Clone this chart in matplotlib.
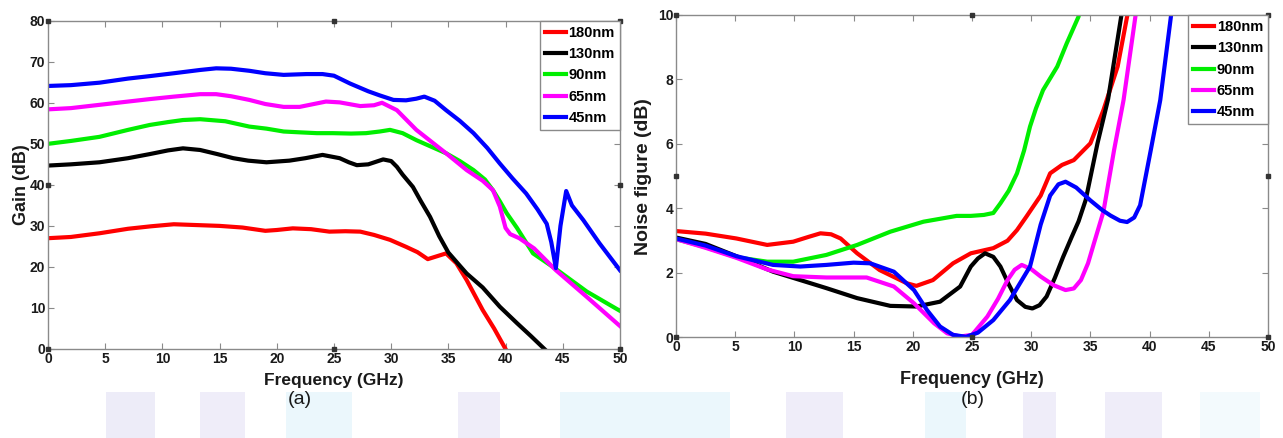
import matplotlib
matplotlib.use("Agg")
import matplotlib.pyplot as plt
from matplotlib.patches import Rectangle

plt.rcParams["font.family"] = ["Liberation Sans", "DejaVu Sans"]

LABELS = ["180nm", "130nm", "90nm", "65nm", "45nm"]
COLORS = ["#ff0000", "#000000", "#00ee00", "#ff00ff", "#0000ff"]

# ---- (a) Gain (dB) vs frequency (GHz)
gain_f_180 = [0, 2, 4.5, 7, 9, 11, 13, 15, 17, 19, 20, 21.4, 23, 24.6, 26, 27.3, 28.5, 29.9, 31.3,
              32.3, 33.2, 34, 34.8, 35.7, 36.6, 38, 39, 40]
gain_180 = [27.0, 27.3, 28.2, 29.3, 29.9, 30.4, 30.2, 30.0, 29.6, 28.8, 29.0, 29.4, 29.2, 28.6, 28.7,
            28.6, 27.8, 26.6, 24.9, 23.6, 21.9, 22.6, 23.3, 20.9, 16.8, 9.5, 5.0, 0.0]

gain_f_130 = [0, 2, 4.5, 7, 8.9, 10.5, 11.8, 13.3, 14.8, 16.2, 17.5, 19.1, 21.1, 22.5, 24.0, 25.5,
              26.3, 27.0, 28.0, 29.3, 30.0, 30.5, 31.0, 31.9, 32.6, 33.4, 34.2, 35.0, 36.0, 36.6,
              38.0, 39.5, 41.0, 42.2, 43.4]
gain_130 = [44.7, 45.0, 45.5, 46.5, 47.5, 48.4, 48.9, 48.5, 47.5, 46.5, 45.9, 45.5, 45.9, 46.5,
            47.3, 46.5, 45.5, 44.8, 45.0, 46.2, 45.8, 44.4, 42.5, 39.5, 36.0, 32.2, 27.5, 23.5,
            20.3, 18.4, 15.0, 10.3, 6.3, 3.2, 0.0]

gain_f_90 = [0, 2, 4.5, 7, 8.9, 10.5, 11.8, 13.3, 15.5, 17.6, 19.1, 20.6, 22, 23.5, 24.9, 26.5,
             27.8, 29.0, 29.9, 31.0, 32.2, 33.5, 34.8, 36.0, 37.2, 38.2, 38.9, 39.5, 40.1, 41.0,
             42.4, 44.4, 47.1, 50]
gain_90 = [50.0, 50.7, 51.7, 53.4, 54.6, 55.3, 55.8, 56.0, 55.5, 54.2, 53.7, 53.0, 52.8, 52.6,
           52.6, 52.5, 52.6, 53.0, 53.4, 52.6, 50.9, 49.3, 47.7, 45.8, 43.6, 41.3, 38.7, 36.0,
           33.1, 29.5, 23.3, 19.5, 14.0, 9.3]

gain_f_65 = [0, 2, 4.5, 7, 8.9, 11, 13.3, 14.7, 16, 17.6, 19, 20.6, 22, 24.3, 25.5, 27.3, 28.5,
             29.2, 30.5, 32.2, 34.8, 36.6, 38.0, 38.9, 39.5, 40.0, 40.4, 41.2, 42.5, 44.4, 47.1,
             50]
gain_65 = [58.4, 58.7, 59.5, 60.3, 60.9, 61.5, 62.1, 62.1, 61.6, 60.7, 59.7, 59.0, 59.0, 60.3, 60.1,
           59.2, 59.4, 60.0, 58.2, 53.4, 47.7, 43.6, 41.0, 38.7, 34.7, 29.5, 28.0, 27.0, 24.5,
           19.2, 12.7, 5.6]

gain_f_45 = [0, 2, 4.5, 7, 8.9, 11, 13.3, 14.7, 16, 17.6, 19, 20.6, 22.6, 24.0, 25.0, 26.4, 28.0,
             29.0, 30.2, 31.3, 32.2, 32.9, 33.8, 34.8, 36.0, 37.2, 38.4, 39.5, 40.6, 41.8, 42.8,
             43.6, 44.0, 44.4, 44.8, 45.3, 45.8, 46.8, 48.2, 50]
gain_45 = [64.1, 64.3, 64.9, 65.9, 66.5, 67.2, 68.0, 68.4, 68.3, 67.8, 67.2, 66.8, 67.0, 67.0, 66.6,
           64.7, 62.8, 61.8, 60.7, 60.6, 61.0, 61.5, 60.5, 58.2, 55.6, 52.6, 49.0, 45.2, 41.6, 37.9,
           34.0, 30.5, 26.0, 19.7, 30.0, 38.5, 35.0, 31.4, 25.8, 19.2]

# ---- (b) Noise figure (dB) vs frequency (GHz)
nf_f_180 = [0, 2.5, 5.1, 7.7, 9.9, 11.2, 12.2, 13.1, 13.9, 15.3, 17.2, 19.5, 20.3, 21.7, 23.4,
            24.9, 26.8, 28.0, 28.8, 29.6, 30.8, 31.6, 32.6, 33.6, 35.0, 36.1, 37.3, 38.1, 38.4]
nf_180 = [3.30, 3.22, 3.07, 2.87, 2.97, 3.12, 3.23, 3.20, 3.07, 2.61, 2.09, 1.68, 1.60, 1.78,
          2.30, 2.61, 2.77, 3.00, 3.33, 3.75, 4.40, 5.09, 5.35, 5.50, 6.02, 7.05, 8.40, 9.95, 10.4]

nf_f_130 = [0, 2.5, 5.1, 8.2, 10.5, 12.7, 15.3, 18.1, 20.3, 22.3, 24.0, 24.9, 25.5, 26.1, 26.8,
            27.4, 28.1, 28.8, 29.5, 30.1, 30.7, 31.3, 32.0, 32.7, 33.4, 34.0, 34.6, 35.6, 36.5,
            37.6, 37.8]
nf_130 = [3.10, 2.90, 2.52, 2.04, 1.78, 1.53, 1.22, 0.98, 0.96, 1.11, 1.58, 2.20, 2.45, 2.61,
          2.50, 2.20, 1.65, 1.16, 0.95, 0.90, 1.00, 1.27, 1.85, 2.50, 3.10, 3.60, 4.26, 6.02,
          7.40, 9.95, 10.4]

nf_f_90 = [0, 2.5, 5.1, 7.7, 9.9, 12.7, 15.3, 18.1, 20.9, 23.7, 24.9, 26.0, 26.8, 27.4, 28.1,
           28.8, 29.4, 29.9, 30.4, 31.0, 32.2, 33.0, 34.0, 34.2]
nf_90 = [3.05, 2.80, 2.49, 2.35, 2.35, 2.56, 2.87, 3.28, 3.59, 3.77, 3.77, 3.80, 3.86, 4.16, 4.55,
         5.09, 5.80, 6.54, 7.10, 7.67, 8.40, 9.12, 9.95, 10.4]

nf_f_65 = [0, 2.5, 5.1, 7.7, 9.9, 12.7, 16.1, 18.4, 20.1, 21.8, 22.9, 24.0, 25.0, 26.3, 27.2,
           28.0, 28.6, 29.2, 30.0, 30.8, 31.9, 32.9, 33.6, 34.2, 34.8, 35.3, 36.1, 37.0, 37.8,
           38.8, 39.0]
nf_65 = [3.05, 2.78, 2.47, 2.11, 1.90, 1.86, 1.86, 1.58, 1.06, 0.44, 0.13, 0.03, 0.08, 0.65, 1.20,
         1.78, 2.10, 2.25, 2.12, 1.89, 1.62, 1.47, 1.52, 1.78, 2.30, 2.92, 3.90, 5.81, 7.36, 9.95,
         10.4]

nf_f_45 = [0, 2.5, 5.1, 8.2, 10.5, 12.7, 15.0, 16.4, 18.4, 20.1, 21.2, 22.3, 23.4, 24.5, 25.5,
           26.8, 28.2, 29.9, 30.8, 31.6, 32.3, 32.9, 33.8, 35.0, 36.0, 36.7, 37.5, 38.1, 38.7,
           39.2, 40.1, 40.9, 41.8, 42.0]
nf_45 = [3.07, 2.85, 2.52, 2.25, 2.20, 2.25, 2.32, 2.30, 2.04, 1.47, 0.85, 0.34, 0.08, 0.02, 0.15,
         0.54, 1.16, 2.20, 3.50, 4.40, 4.75, 4.83, 4.65, 4.25, 3.95, 3.78, 3.62, 3.58, 3.72,
         4.10, 5.81, 7.36, 9.95, 10.4]

GAIN = [(gain_f_180, gain_180), (gain_f_130, gain_130), (gain_f_90, gain_90),
        (gain_f_65, gain_65), (gain_f_45, gain_45)]
NF = [(nf_f_180, nf_180), (nf_f_130, nf_130), (nf_f_90, nf_90),
      (nf_f_65, nf_65), (nf_f_45, nf_45)]

X_TICKS = [0, 5, 10, 15, 20, 25, 30, 35, 40, 45, 50]
GAIN_TICKS = [0, 10, 20, 30, 40, 50, 60, 70, 80]
NF_TICKS = [0, 2, 4, 6, 8, 10]

SPINE = "#8a8a8a"
TXT = "#1a1a1a"


def style_axes(ax, yticks, ylim):
    ax.set_xlim(0, 50)
    ax.set_ylim(*ylim)
    ax.set_xticks(X_TICKS)
    ax.set_yticks(yticks)
    ax.tick_params(direction="in", length=4, width=0.8, color=SPINE, labelsize=10,
                   labelcolor=TXT, top=True, right=True, pad=2)
    for lab in ax.get_xticklabels() + ax.get_yticklabels():
        lab.set_fontweight("bold")
    for sp in ax.spines.values():
        sp.set_color(SPINE)
        sp.set_linewidth(1.0)
    # matlab style selection handles
    hx = [0, 0.5, 1, 1, 1, 0.5, 0, 0]
    hy = [1, 1, 1, 0.5, 0, 0, 0, 0.5]
    ax.plot(hx, hy, ls="none", marker="s", ms=2.5, color="#333333",
            transform=ax.transAxes, clip_on=False, zorder=5)


def draw(ax, series):
    for (x, y), c, lab in zip(series, COLORS, LABELS):
        ax.plot(x, y, color=c, lw=3.0, label=lab, solid_joinstyle="round")
    leg = ax.legend(loc="upper right", borderaxespad=0, fancybox=False, framealpha=1,
                    edgecolor=SPINE, handlelength=1.45, handletextpad=0.15,
                    labelspacing=0.5, borderpad=0.35, prop={"weight": "bold", "size": 10.5})
    leg.get_frame().set_linewidth(1.0)


fig = plt.figure(figsize=(12.83, 4.38), dpi=100)

# faint watermark band behind the figure
bg = [(106, 49, "#d9d5f0"), (200, 45, "#dcd8f2"), (286, 66, "#d3eff9"), (458, 42, "#dcd8f2"),
      (560, 170, "#d3eff9"), (786, 57, "#dcd8f2"), (925, 41, "#d3eff9"), (1023, 33, "#dcd8f2"),
      (1105, 57, "#dcd8f2"), (1200, 60, "#e6f5fb")]
for x0, w, c in bg:
    fig.patches.append(Rectangle((x0 / 1283, 0), w / 1283, 46 / 438, transform=fig.transFigure,
                                 color=c, alpha=0.45, zorder=-10, lw=0))

ax1 = fig.add_axes([0.0374, 0.2032, 0.4458, 0.7495])
draw(ax1, GAIN)
style_axes(ax1, GAIN_TICKS, (0, 80))
ax1.set_xlabel("Frequency (GHz)", fontsize=12.5, fontweight="bold", color=TXT, labelpad=5)
ax1.set_ylabel("Gain (dB)", fontsize=13, fontweight="bold", color=TXT, labelpad=0)

ax2 = fig.add_axes([0.5269, 0.2295, 0.4614, 0.7363])
draw(ax2, NF)
style_axes(ax2, NF_TICKS, (0, 10))
ax2.set_xlabel("Frequency (GHz)", fontsize=13, fontweight="bold", color=TXT, labelpad=12)
ax2.set_ylabel("Noise figure (dB)", fontsize=14, fontweight="bold", color=TXT, labelpad=4)

fig.text(300 / 1283, 1 - 399 / 438, "(a)", fontsize=14, ha="center", va="center", color=TXT)
fig.text(973 / 1283, 1 - 399 / 438, "(b)", fontsize=14, ha="center", va="center", color=TXT)

fig.savefig("out.png", dpi=100)
